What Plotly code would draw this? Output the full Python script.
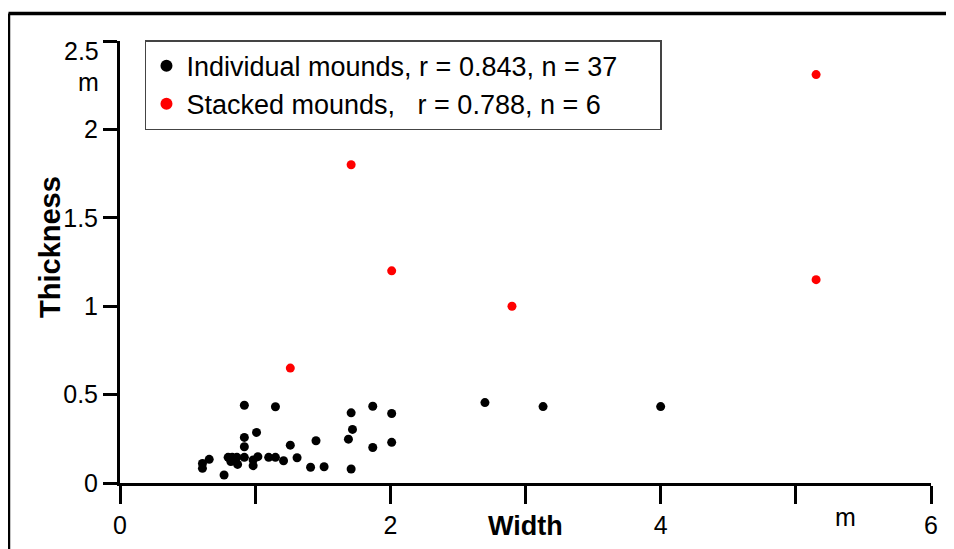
import plotly.graph_objects as go

# Individual mounds (black)
ind_width = [0.61, 0.61, 0.66, 0.77, 0.80, 0.83, 0.82, 0.87, 0.865, 0.92,
             0.92, 0.92, 0.92, 0.985, 0.985, 1.01, 1.02, 1.10, 1.15, 1.15,
             1.21, 1.26, 1.31, 1.41, 1.45, 1.51, 1.69, 1.71, 1.72, 1.71,
             1.87, 1.87, 2.01, 2.01, 2.70, 3.13, 4.00]
ind_thick = [0.11, 0.083, 0.134, 0.045, 0.145, 0.145, 0.121, 0.105, 0.145, 0.145,
             0.44, 0.258, 0.205, 0.13, 0.098, 0.286, 0.149, 0.145, 0.431, 0.145,
             0.126, 0.214, 0.143, 0.089, 0.239, 0.092, 0.248, 0.397, 0.303, 0.079,
             0.434, 0.201, 0.393, 0.23, 0.455, 0.432, 0.432]

# Stacked mounds (red)
stk_width = [1.26, 1.71, 2.01, 2.90, 5.15, 5.15]
stk_thick = [0.65, 1.80, 1.20, 1.00, 2.31, 1.15]

x_tickvals = [0, 1, 2, 3, 4, 5, 6]
x_ticktext = ["0", "", "2", "", "4", "", "6"]
y_tickvals = [0, 0.5, 1, 1.5, 2, 2.5]
y_ticktext = ["0", "0.5", "1", "1.5", "2", ""]

name_ind = "Individual mounds, r = 0.843, n = 37" + "\u00a0" * 5
name_stk = "Stacked mounds,\u00a0\u00a0\u00a0r = 0.788, n = 6"

FONT = "Liberation Sans, Arial, sans-serif"

fig = go.Figure()
fig.add_trace(go.Scatter(x=ind_width, y=ind_thick, mode="markers", name=name_ind,
                         marker=dict(color="black", size=9), cliponaxis=False))
fig.add_trace(go.Scatter(x=stk_width, y=stk_thick, mode="markers", name=name_stk,
                         marker=dict(color="#ff0000", size=9), cliponaxis=False))

fig.update_layout(
    width=954, height=549,
    margin=dict(l=112, r=31, t=33, b=74),
    paper_bgcolor="white", plot_bgcolor="white",
    font=dict(family=FONT, size=25, color="black"),
    showlegend=True,
    legend=dict(x=0.0308, y=1.002, xanchor="left", yanchor="top",
                bgcolor="white", bordercolor="#444", borderwidth=1.5,
                font=dict(size=27, family=FONT), tracegroupgap=0,
                itemsizing="constant"),
    xaxis=dict(range=[0, 6], showline=True, linecolor="black", linewidth=3,
               ticks="outside", ticklen=18, tickwidth=3, tickcolor="black",
               tickvals=x_tickvals, ticktext=x_ticktext, showgrid=False,
               zeroline=False, tickfont=dict(size=25, family=FONT)),
    yaxis=dict(range=[0, 2.5], showline=True, linecolor="black", linewidth=3,
               ticks="outside", ticklen=14, tickwidth=3, tickcolor="black",
               tickvals=y_tickvals, ticktext=y_ticktext, showgrid=False,
               zeroline=False, tickfont=dict(size=25, family=FONT)),
    annotations=[
        dict(text="2.5", xref="paper", yref="paper", x=-0.0234, y=0.977,
             xanchor="right", yanchor="middle", showarrow=False,
             font=dict(size=25, family=FONT)),
        dict(text="m", xref="paper", yref="paper", x=-0.0234, y=0.907,
             xanchor="right", yanchor="middle", showarrow=False,
             font=dict(size=25, family=FONT)),
        dict(text="m", xref="x", yref="paper", x=5.37, y=-0.077,
             xanchor="center", yanchor="middle", showarrow=False,
             font=dict(size=25, family=FONT)),
        dict(text="<b>Width</b>", xref="x", yref="paper", x=3.0, y=-0.097,
             xanchor="center", yanchor="middle", showarrow=False,
             font=dict(size=27, family=FONT)),
        dict(text="<b>Thickness</b>", xref="paper", yref="paper", x=-0.0863, y=0.534,
             xanchor="center", yanchor="middle", showarrow=False, textangle=-90,
             font=dict(size=29, family=FONT)),
    ],
    shapes=[
        dict(type="line", xref="paper", yref="paper", x0=-0.1375, x1=1.2,
             y0=1.0622, y1=1.0622, line=dict(color="black", width=3.5)),
        dict(type="line", xref="paper", yref="paper", x0=-0.1375, x1=-0.1375,
             y0=1.0622, y1=-0.3, line=dict(color="black", width=3.5)),
    ],
)

fig.write_html("out.html")
